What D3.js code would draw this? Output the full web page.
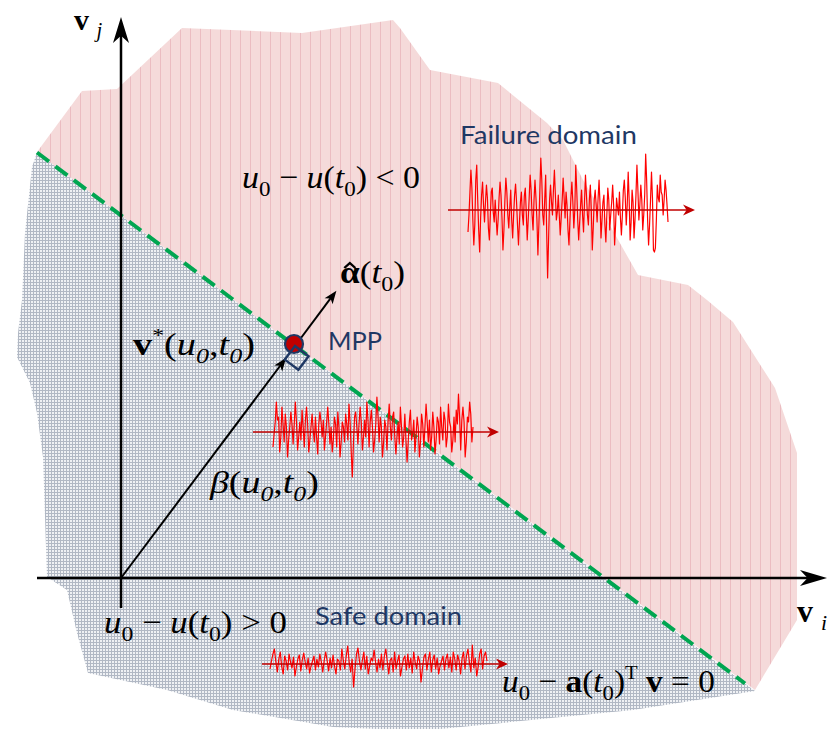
<!DOCTYPE html>
<html><head><meta charset="utf-8">
<script src="https://cdn.jsdelivr.net/npm/d3@7"></script>
<style>html,body{margin:0;padding:0;background:#fff;}svg{display:block;}</style>
</head><body>
<svg id="c" width="831" height="729"></svg>
<script>
// ---- Limit state in standard normal space: u0 - a(t0)^T v = 0 ----
const alphaDir = [0.6, 0.8];      // unit normal \hat{alpha}(t0)
const betaIndex = 2.9;            // reliability index beta(u0,t0)
const limitSpan = [-0.84, 6.24];  // v_i extent of the dashed limit-state line

// Outline of the failure domain (v_i, v_j)
const failureOutline = [
  [-0.84,4.26],[-0.39,4.87],[-0.04,4.89],[0.61,5.50],[1.81,5.45],[2.72,5.58],
  [2.79,5.50],[3.09,5.08],[3.77,4.95],[4.26,4.55],[4.42,4.38],[4.62,3.98],
  [4.87,3.56],[5.17,3.03],[5.67,2.93],[5.86,2.78],[6.12,2.56],[6.54,1.90],
  [6.76,1.25],[6.76,-0.42],[6.34,-1.12]
];
// Outer outline of the safe domain below the limit state
const safeOutline = [
  [6.34,-1.13],[5.12,-1.32],[2.99,-1.53],[2.12,-1.49],[1.12,-1.32],[0.46,-1.12],
  [-0.33,-0.95],[-0.44,-0.55],[-0.54,-0.12],[-0.74,0.01],[-0.78,1.21],[-0.84,1.65],
  [-0.91,1.95],[-1.04,2.21],[-1.03,2.45],[-0.99,2.78],[-0.96,3.45],[-0.89,4.11]
];

// Sample excitation records u(t) in each region
const failureRecord = [-22,-5,18,40,22,-10,-35,-15,30,45,10,-20,-42,-8,15,28,5,-12,8,25,12,-18,-30,-5,18,22,-2,-12,10,-8,-25,-10,12,28,15,-8,-40,-20,10,32,18,-5,-18,2,20,-10,-28,-5,15,26,8,-15,-35,-12,8,18,-5,-15,14,22,-2,-30,-10,12,35,20,-5,-20,10,30,12,-10,-45,-15,20,52,30,-5,-15,10,35,-20,-68,-30,10,25,8,-5,20,40,15,-10,-2,15,-5,-25,-8,10,32,12,-8,18,5,-20,-35,-10,12,28,8,-18,0,45,20,-10,-30,-12,5,20,-5,-22,8,35,15,-5,-15,10,25,0,-40,-18,10,20,5,-12,12,30,5,-28,-10,8,15,-15,-32,-5,22,10,-20,-5,8,25,5,-35,-15,12,3,-5,18,-8,-25,-5,20,30,12,-15,5,38,10,-30,-12,20,8,-28,-10,15,45,20,-10,5,25,10,-20,-5,15,56,30,-10,-35,-15,10,38,12,-40,-42,-38,-10,25,12,8,35,18,15,-5,10,30,20,5,-12];
const boundaryRecord = [-15,-2,10,30,12,15,-20,-5,25,8,-10,18,5,-25,-8,5,20,8,-12,8,30,10,-18,-5,10,-8,22,5,-15,12,25,8,-20,-8,5,18,2,-10,15,-5,-22,8,20,10,-5,12,-18,-5,10,25,8,-12,5,-20,-8,15,8,-15,20,5,-25,-10,10,5,-10,18,8,-8,28,10,-20,-45,-10,15,20,5,-12,8,25,10,-18,-5,12,-5,30,12,-15,10,22,5,-20,-8,8,35,15,-10,15,5,-25,-10,12,5,-18,10,28,5,-8,15,20,-5,-22,-5,10,-12,25,5,-15,-5,18,-8,-30,-10,10,22,-8,-2,12,-20,-5,15,5,-25,-10,18,8,-15,5,28,10,-10,12,-18,-5,20,5,-22,-8,15,10,-12,25,5,-8,20,12,-15,-5,28,10,5,-20,-8,15,-10,22,8,38,15,-18,12,25,10,-25,-10,15,10,30,18,-10,5];
const safeRecord = [-5,3,10,15,2,-8,5,12,-3,-10,8,3,-6,10,2,-4,7,-12,-3,5,9,-7,4,11,2,-5,6,-9,-2,3,8,-6,5,-3,10,2,-8,4,12,3,-7,6,-4,9,-2,-10,5,3,-6,15,4,-5,8,18,2,-8,5,-23,-5,10,16,3,-6,4,12,-5,8,-10,-2,6,3,14,2,-8,5,-4,10,-6,8,15,2,-10,4,6,-8,12,-5,3,9,-12,-3,5,8,-6,10,-4,6,-9,12,2,-5,8,3,-18,-4,7,10,-6,5,12,-8,4,9,-5,6,-10,-2,3,8,-6,5,10,-4,7,-8,12,5,-6,9,3,-10,6,12,-5,8,15,2,-8,19,-4,6,-12,-3,10,15,-5,8,12,3];

const svg = d3.select('#c');
const x = d3.scaleLinear().domain([-0.84, 7.06]).range([37, 827]);
const y = d3.scaleLinear().domain([-0.30, 5.61]).range([608, 17]);
const P = v => [x(v[0]), y(v[1])];

// ---- fill patterns ----
const defs = svg.append('defs');
const pk = defs.append('pattern').attr('id','pinkHatch').attr('patternUnits','userSpaceOnUse')
  .attr('width',10).attr('height',10);
pk.append('rect').attr('width',10).attr('height',10).attr('fill','#f5dada');
pk.append('rect').attr('x',0).attr('width',1).attr('height',10).attr('fill','#ebbcc1');
const gy = defs.append('pattern').attr('id','grayGrid').attr('patternUnits','userSpaceOnUse')
  .attr('width',3).attr('height',3);
gy.append('rect').attr('width',3).attr('height',3).attr('fill','#eff1f4');
gy.append('rect').attr('width',1).attr('height',3).attr('fill','#b1b8c4');
gy.append('rect').attr('width',3).attr('height',1).attr('fill','#b1b8c4');

const lineAt = vi => [vi, (betaIndex - alphaDir[0]*vi)/alphaDir[1]];
const area = d3.line().x(d=>x(d[0])).y(d=>y(d[1]));

// failure domain (closed along the limit state)
svg.append('path').attr('d', area(failureOutline.concat([lineAt(limitSpan[0])])) + 'Z')
  .attr('fill','url(#pinkHatch)');
// safe domain
svg.append('path').attr('d', area([lineAt(limitSpan[0])].concat(safeOutline)) + 'Z')
  .attr('fill','url(#grayGrid)');

// limit-state line
svg.append('path').attr('d', area([lineAt(limitSpan[0]), lineAt(limitSpan[1])]))
  .attr('stroke','#00a651').attr('stroke-width',4).attr('stroke-dasharray','15,8').attr('fill','none');

function arrowHead(g, tip, from, L, W, notch, fill){
  const dx = tip[0]-from[0], dy = tip[1]-from[1], n = Math.hypot(dx,dy);
  const ux = dx/n, uy = dy/n, px = -uy, py = ux;
  const bx = tip[0]-ux*L, by = tip[1]-uy*L;
  const nx = tip[0]-ux*L*notch, ny = tip[1]-uy*L*notch;
  g.append('path').attr('d', `M${tip[0]},${tip[1]}L${bx+px*W},${by+py*W}L${nx},${ny}L${bx-px*W},${by-py*W}Z`)
    .attr('fill', fill);
}

// ---- coordinate axes v_i, v_j ----
const ax = svg.append('g');
const xa0 = [x(-0.84), y(0)], xa1 = [x(7.06), y(0)];
const ya0 = [x(0), y(-0.30)], ya1 = [x(0), y(5.61)];
ax.append('line').attr('x1',xa0[0]).attr('y1',xa0[1]).attr('x2',xa1[0]-10).attr('y2',xa1[1]).attr('stroke','#000').attr('stroke-width',2.5);
ax.append('line').attr('x1',ya0[0]).attr('y1',ya0[1]).attr('x2',ya1[0]).attr('y2',ya1[1]+10).attr('stroke','#000').attr('stroke-width',2.5);
arrowHead(ax, xa1, xa0, 27, 8, 0.72, '#000');
arrowHead(ax, ya1, ya0, 26, 8, 0.72, '#000');

// ---- design point vector and unit normal ----
const origin = P([0,0]);
const mpp = P([betaIndex*alphaDir[0], betaIndex*alphaDir[1]]);
const vecTip = P([(betaIndex-0.15)*alphaDir[0], (betaIndex-0.15)*alphaDir[1]]);
const nrmTip = P([(betaIndex+0.69)*alphaDir[0], (betaIndex+0.69)*alphaDir[1]]);
svg.append('line').attr('x1',origin[0]).attr('y1',origin[1]).attr('x2',vecTip[0]).attr('y2',vecTip[1])
  .attr('stroke','#000').attr('stroke-width',2);
arrowHead(svg, vecTip, origin, 13, 5, 0.75, '#000');
svg.append('line').attr('x1',mpp[0]).attr('y1',mpp[1]).attr('x2',nrmTip[0]-4).attr('y2',nrmTip[1]+5)
  .attr('stroke','#000').attr('stroke-width',2);
arrowHead(svg, nrmTip, mpp, 13, 5, 0.75, '#000');

// MPP marker and right-angle symbol
svg.append('circle').attr('cx',mpp[0]-1).attr('cy',mpp[1]-2).attr('r',9)
  .attr('fill','#c00000').attr('stroke','#1f3864').attr('stroke-width',2.2);
const s = 0.17, d = [alphaDir[1], -alphaDir[0]];
const mv = [betaIndex*alphaDir[0], betaIndex*alphaDir[1]];
const sq = [mv, [mv[0]+s*d[0], mv[1]+s*d[1]],
  [mv[0]+s*d[0]-s*alphaDir[0], mv[1]+s*d[1]-s*alphaDir[1]],
  [mv[0]-s*alphaDir[0], mv[1]-s*alphaDir[1]]];
svg.append('path').attr('d', area(sq)+'Z').attr('fill','none').attr('stroke','#1f3864').attr('stroke-width',2.4);

// ---- sample records ----
function record(data, x0, x1, axisY, ax0, ax1){
  const g = svg.append('g');
  const sx = d3.scaleLinear().domain([0, data.length-1]).range([x0, x1]);
  const sy = d3.scaleLinear().domain([-60, 60]).range([axisY+60, axisY-60]);
  g.append('path').attr('d', d3.line().x((v,i)=>sx(i)).y(v=>sy(v))(data))
    .attr('fill','none').attr('stroke','#ff0000').attr('stroke-width',1.2).attr('stroke-linejoin','round');
  g.append('line').attr('x1',ax0).attr('y1',sy(0)).attr('x2',ax1-6).attr('y2',sy(0))
    .attr('stroke','#c00000').attr('stroke-width',1.7);
  arrowHead(g, [ax1, sy(0)], [ax0, sy(0)], 12, 5.5, 0.7, '#c00000');
}
record(failureRecord, 468, 668, 210, 448, 695);
record(boundaryRecord, 273, 473, 432, 253, 499);
record(safeRecord, 270, 487, 664, 262, 508);

// ---- formula labels ----
function mathText(x0, base, size, parts, targetW){
  const g = svg.append('g');
  const t = g.append('text').attr('x',x0).attr('y',base)
    .attr('font-family','"Liberation Serif","Times New Roman",serif').attr('font-size',size).attr('fill','#000');
  let level = 0;
  parts.forEach(([str, st]) => {
    let lv = 0, fs = size;
    if (st.includes('_')) { lv = size*0.24; fs = size*0.68; }
    if (st.includes('^')) { lv = -size*0.40; fs = size*0.62; }
    const ts = t.append('tspan').attr('dy', lv-level).attr('font-size', fs).text(str);
    level = lv;
    if (st.includes('I')) ts.attr('font-style','italic');
    if (st.includes('B')) ts.attr('font-weight','bold');
  });
  if (targetW) {
    const w = t.node().getBBox().width;
    g.attr('transform', `translate(${x0},0) scale(${targetW/w},1) translate(${-x0},0)`);
  }
  return {g, t};
}
mathText(242, 188, 32, [['u','I'],['0','_'],[' − ',''],['u','I'],['(',''],['t','I'],['0','_'],[') < 0','']], 178);
mathText(104, 633, 32, [['u','I'],['0','_'],[' − ',''],['u','I'],['(',''],['t','I'],['0','_'],[') > 0','']], 183);
mathText(502, 692, 32, [['u','I'],['0','_'],[' − ',''],['a','B'],['(',''],['t','I'],['0','_'],[')',''],['T','^'],[' ',''],['v','B'],[' = 0','']], 213);
mathText(133, 355, 32, [['v','B'],['*','^'],['(',''],['u','I'],['0','I_'],[',',''],['t','I'],['0','I_'],[')','']], 122);
mathText(210, 493, 32, [['β','I'],['(',''],['u','I'],['0','I_'],[',',''],['t','I'],['0','I_'],[')','']], 110);
const al = mathText(340, 283, 32, [['α','B'],['(',''],['t','I'],['0','_'],[')','']], 65);
{
  const ext = al.t.node().getExtentOfChar(0);
  const cx = ext.x + ext.width/2;
  al.g.append('path').attr('d', `M${cx-5},${268}L${cx},${263}L${cx+5},${268}`)
    .attr('fill','none').attr('stroke','#000').attr('stroke-width',2.2);
}
mathText(74, 30, 30, [['v','B'],[' ',''],['j','I_']]);
mathText(797, 622, 32, [['v','B'],[' ',''],['i','I_']]);

// ---- domain labels ----
function sansText(x0, base, size, str, targetW){
  const t = svg.append('text').attr('x',x0).attr('y',base).attr('font-family','Lato,"Open Sans",sans-serif')
    .attr('font-size',size).attr('fill','#1f3864').text(str);
  const w = t.node().getBBox().width;
  t.attr('transform', `translate(${x0},0) scale(${targetW/w},1) translate(${-x0},0)`);
}
sansText(460, 144, 25, 'Failure domain', 177);
sansText(315, 625, 25, 'Safe domain', 147);
sansText(328, 350, 25, 'MPP', 54);
</script>
</body></html>
